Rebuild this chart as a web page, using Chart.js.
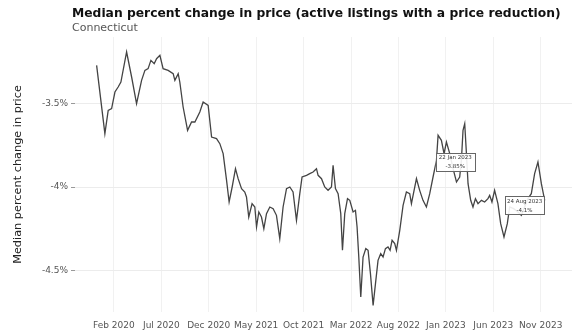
<!DOCTYPE html>
<html>
<head>
<meta charset="utf-8">
<title>Median percent change in price</title>
<script src="https://cdn.jsdelivr.net/npm/chart.js@4.4.1/dist/chart.umd.min.js"></script>
<style>
  html, body { margin: 0; padding: 0; background: #fff; }
  #wrap { position: relative; width: 582px; height: 335px; }
  #title { position: absolute; left: 72px; top: 6px; font: bold 12.3px 'DejaVu Sans', sans-serif; color: #111; white-space: nowrap; }
  #subtitle { position: absolute; left: 72px; top: 21px; font: 11px 'DejaVu Sans', sans-serif; color: #555; white-space: nowrap; }
  canvas { position: absolute; left: 0; top: 0; }
</style>
</head>
<body>
<div id="wrap">
  <canvas id="priceChart" width="582" height="335"></canvas>
  <div id="title">Median percent change in price (active listings with a price reduction)</div>
  <div id="subtitle">Connecticut</div>
</div>
<script>
/* ══════════════════════════════
   DATA
══════════════════════════════ */
// x = months since 1 Jan 2020
const tickMonths = [1, 6, 11, 16, 21, 26, 31, 36, 41, 46];
const tickLabels = ['Feb 2020', 'Jul 2020', 'Dec 2020', 'May 2021', 'Oct 2021',
                    'Mar 2022', 'Aug 2022', 'Jan 2023', 'Jun 2023', 'Nov 2023'];
const yTicks = [-3.5, -4, -4.5];

const months = [
  -0.82, 0.05, 0.4, 0.76, 1.11, 1.45, 1.74, 2.34, 2.87, 3.39,
  3.92, 4.27, 4.61, 4.9, 5.25, 5.5, 5.85, 6.19, 6.72, 7.25,
  7.43, 7.78, 7.95, 8.3, 8.77, 9.19, 9.54, 10.06, 10.41, 10.94,
  11.3, 11.82, 12.17, 12.52, 12.88, 13.15, 13.47, 13.82, 14.1, 14.46,
  14.8, 14.98, 15.22, 15.57, 15.86, 16.04, 16.28, 16.56, 16.81, 17.09,
  17.44, 17.79, 18.14, 18.49, 18.84, 19.2, 19.55, 19.89, 20.25, 20.6,
  20.84, 21.31, 21.65, 22.0, 22.36, 22.53, 22.89, 23.23, 23.58, 23.94,
  24.11, 24.36, 24.64, 24.92, 25.1, 25.34, 25.63, 25.87, 26.22, 26.47,
  26.64, 26.82, 27.03, 27.27, 27.56, 27.8, 28.05, 28.33, 28.58, 28.85,
  29.13, 29.38, 29.63, 29.9, 30.12, 30.33, 30.61, 30.79, 31.14, 31.49,
  31.84, 32.19, 32.37, 32.9, 33.24, 33.59, 33.95, 34.3, 34.65, 35.01,
  35.18, 35.53, 35.81, 36.06, 36.41, 36.76, 37.12, 37.46, 37.64, 37.81,
  37.99, 38.17, 38.34, 38.62, 38.86, 39.12, 39.39, 39.75, 40.09, 40.44,
  40.62, 40.86, 41.14, 41.49, 41.78, 42.13, 42.48, 42.73, 43.15, 43.6,
  43.96, 44.65, 45.01, 45.36, 45.71, 46.07, 46.42
];

const changePct = [
  -3.27, -3.68, -3.54, -3.53, -3.43, -3.40, -3.37, -3.19, -3.34, -3.50,
  -3.36, -3.30, -3.29, -3.24, -3.26, -3.23, -3.21, -3.29, -3.30, -3.32,
  -3.36, -3.32, -3.37, -3.52, -3.66, -3.61, -3.61, -3.55, -3.49, -3.51,
  -3.70, -3.71, -3.74, -3.80, -3.96, -4.09, -4.00, -3.89, -3.95, -4.01,
  -4.03, -4.06, -4.18, -4.10, -4.12, -4.24, -4.15, -4.18, -4.25, -4.16,
  -4.12, -4.13, -4.17, -4.31, -4.12, -4.01, -4.00, -4.03, -4.20, -4.04,
  -3.94, -3.93, -3.92, -3.91, -3.89, -3.93, -3.95, -4.00, -4.02, -4.00,
  -3.87, -4.01, -4.04, -4.16, -4.38, -4.16, -4.07, -4.08, -4.15, -4.14,
  -4.24, -4.42, -4.66, -4.42, -4.37, -4.38, -4.52, -4.71, -4.58, -4.44,
  -4.40, -4.42, -4.37, -4.36, -4.38, -4.32, -4.34, -4.38, -4.26, -4.11,
  -4.03, -4.04, -4.10, -3.95, -4.02, -4.08, -4.12, -4.04, -3.94, -3.84,
  -3.69, -3.72, -3.80, -3.73, -3.80, -3.89, -3.97, -3.94, -3.84, -3.66,
  -3.62, -3.80, -3.98, -4.08, -4.12, -4.07, -4.10, -4.08, -4.09, -4.07,
  -4.05, -4.09, -4.02, -4.10, -4.22, -4.30, -4.22, -4.12, -4.13, -4.15,
  -4.17, -4.07, -4.04, -3.92, -3.85, -3.98, -4.08
];

// label boxes
const noteMonths = [37.0, 44.3];
const noteValues = [-3.85, -4.11];
const noteDates = ['22 Jan 2023', '24 Aug 2023'];
const noteTexts = ['-3.85%', '-4.1%'];

/* ══════════════════════════════
   NOTE BOXES
══════════════════════════════ */
const notePlugin = {
  id: 'notes',
  afterDatasetsDraw(chart) {
    const { ctx, scales: { x, y } } = chart;
    ctx.save();
    ctx.font = '5.5px "DejaVu Sans", sans-serif';
    ctx.textAlign = 'center';
    ctx.textBaseline = 'middle';
    noteMonths.forEach((m, i) => {
      const cx = x.getPixelForValue(m);
      const cy = y.getPixelForValue(noteValues[i]);
      const w = 39, h = 18;
      ctx.fillStyle = 'rgba(255,255,255,0.9)';
      ctx.fillRect(cx - w / 2, cy - h / 2, w, h);
      ctx.strokeStyle = '#666';
      ctx.lineWidth = 1;
      ctx.strokeRect(Math.round(cx - w / 2) + 0.5, Math.round(cy - h / 2) + 0.5, w, h);
      ctx.fillStyle = '#333';
      ctx.fillText(noteDates[i], cx, cy - 4);
      ctx.fillText(noteTexts[i], cx, cy + 5);
    });
    ctx.restore();
  }
};

/* ══════════════════════════════
   CHART
══════════════════════════════ */
const ctx = document.getElementById('priceChart').getContext('2d');

new Chart(ctx, {
  type: 'line',
  data: {
    datasets: [{
      data: months.map((m, i) => ({ x: m, y: changePct[i] })),
      borderColor: '#444',
      borderWidth: 1.3,
      pointRadius: 0,
      tension: 0,
      fill: false
    }]
  },
  options: {
    responsive: false,
    animation: false,
    layout: { padding: { top: 37, right: 10, left: 0, bottom: 0 } },
    plugins: {
      legend: { display: false },
      tooltip: { enabled: false }
    },
    scales: {
      x: {
        type: 'linear',
        min: -3.1,
        max: 49.3,
        afterBuildTicks: axis => { axis.ticks = tickMonths.map(v => ({ value: v })); },
        afterFit: axis => { axis.height = 23; },
        border: { display: false },
        grid: { color: '#f1f1f1', drawTicks: false },
        ticks: {
          autoSkip: false,
          maxRotation: 0,
          padding: 8,
          font: { family: 'DejaVu Sans', size: 9 },
          color: '#555',
          callback: (v, i) => tickLabels[i]
        }
      },
      y: {
        min: -4.75,
        max: -3.1,
        afterBuildTicks: axis => { axis.ticks = yTicks.map(v => ({ value: v })); },
        afterFit: axis => { axis.width = 75; },
        border: { display: false },
        grid: { color: '#ececec', tickLength: 4, tickColor: '#999' },
        ticks: {
          padding: 3,
          font: { family: 'DejaVu Sans', size: 9 },
          color: '#555',
          callback: v => v + '%'
        },
        title: {
          display: true,
          text: 'Median percent change in price',
          font: { family: 'DejaVu Sans', size: 11.3 },
          color: '#222',
          padding: { top: 11, bottom: 0 }
        }
      }
    }
  },
  plugins: [notePlugin]
});
</script>
</body>
</html>
